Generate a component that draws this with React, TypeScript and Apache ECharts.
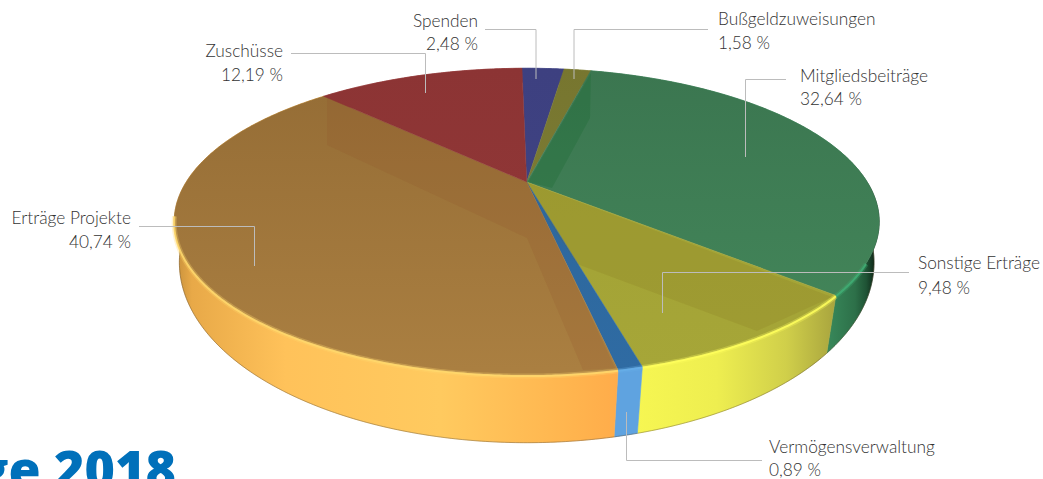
import React, { useEffect, useRef } from "react";
import * as echarts from "echarts";

const categories = ["Spenden", "Bußgeldzuweisungen", "Mitgliedsbeiträge", "Sonstige Erträge", "Vermögensverwaltung", "Erträge Projekte", "Zuschüsse"];
const shares = [2.48, 1.58, 32.64, 9.48, 0.89, 40.74, 12.19];
const titleFragment = "ge 2018";

const topColors = [
  ["#3d4080", "#404484"],
  ["#77762f", "#80803a"],
  ["#3b7650", "#44885b"],
  ["#a0a033", "#a6a638"],
  ["#2c6597", "#2f6ba3"],
  ["#946c35", "#aa7f41"],
  ["#8c3434", "#943939"],
];
const rimColors = ["#4a4d90", "#8a8a40", "#3fae74", "#ffff5c", "#66aee8", "#ffd86c", "#a04040"];
const rimMinY = [0, 0, 262, 0, 0, 215, 0];
const wallStops: [number, string][][] = [
  [[0, "#4a4d90"], [1, "#4a4d90"]],
  [[0, "#8a8a40"], [1, "#8a8a40"]],
  [[0, "#38885a"], [0.6, "#2d7049"], [0.85, "#1f5335"], [1, "#12301e"]],
  [[0, "#f6f652"], [0.4, "#eeee50"], [0.75, "#d0cf4a"], [1, "#a8a43e"]],
  [[0, "#5fa3e0"], [1, "#5fa3e0"]],
  [[0, "#c48e3a"], [0.04, "#e8a948"], [0.25, "#ffc25a"], [0.6, "#ffca5f"], [0.9, "#ffb44e"], [1, "#ffac4a"]],
  [[0, "#a04040"], [1, "#a04040"]],
];
const labelLayouts = [
  { x: 478, y1: 20, y2: 43, align: "right", line: [[485, 29.5], [536, 29.5], [536, 79]] },
  { x: 718, y1: 18, y2: 42, align: "left", line: [[708, 29.5], [574, 29.5], [574, 79]] },
  { x: 800, y1: 75, y2: 98, align: "left", line: [[786, 79.5], [745.5, 79.5], [745.5, 157]] },
  { x: 918, y1: 262, y2: 287, align: "left", line: [[909, 272.5], [662.5, 272.5], [662.5, 313]] },
  { x: 769, y1: 446, y2: 469, align: "left", line: [[762, 460.5], [626.5, 460.5], [626.5, 412]] },
  { x: 131, y1: 217, y2: 241, align: "right", line: [[139, 226.5], [254.5, 226.5], [254.5, 266]] },
  { x: 283, y1: 50, y2: 74, align: "right", line: [[291, 53.5], [425.5, 53.5], [425.5, 93]] },
];
const reflections = [
  { points: [[327, 97], [327, 145], [527, 238], [583, 370], [615, 368], [528, 183]], fill: "rgba(140,70,35,0.13)" },
  { points: [[591, 73], [590, 118], [552, 188], [528, 182]], fill: "rgba(25,105,50,0.3)" },
  { points: [[528, 183], [832, 297], [757, 331], [577, 264], [556, 232]], fill: "rgba(120,100,20,0.14)" },
];

const CX = 526.7;
const TOP = { cy: 182, A: 340.5, B: 143.2, k: 0.259 };
const BOTTOM = { cy: 221, A: 338, B: 170.7, k: 0.23 };
const ROTATION = -1;
const total = shares.reduce((a, b) => a + b, 0);

function project(disc: typeof TOP, deg: number, r = 1): [number, number] {
  const t = ((deg + ROTATION) * Math.PI) / 180;
  const u = r * Math.sin(t);
  const v = r * Math.cos(t);
  const w = 1 + disc.k * v;
  return [CX + (disc.A * u) / w, disc.cy - (disc.B * v) / w];
}
function span(index: number): [number, number] {
  let before = 0;
  for (let i = 0; i < index; i++) before += shares[i];
  return [(before / total) * 360, ((before + shares[index]) / total) * 360];
}
function arc(disc: typeof TOP, a0: number, a1: number): [number, number][] {
  const n = Math.max(2, Math.ceil((a1 - a0) * 2));
  const pts: [number, number][] = [];
  for (let i = 0; i <= n; i++) pts.push(project(disc, a0 + ((a1 - a0) * i) / n));
  return pts;
}

const renderWall = (params: any, api: any) => {
  const i = params.dataIndex;
  void api.value(0);
  const [a0, a1] = span(i);
  const top = arc(TOP, a0, a1);
  const bottom = arc(BOTTOM, a0, a1);
  const xs = top.concat(bottom).map((p) => p[0]);
  const x0 = Math.min(...xs);
  const x1 = i === 2 ? 873 : Math.max(...xs);
  const stops = wallStops[i].map(([offset, color]) => ({ offset, color }));
  const fill = new echarts.graphic.LinearGradient(i === 2 ? 828 : x0, 0, x1, 0, stops, true);
  return {
    type: "group",
    children: [
      { type: "polygon", shape: { points: top.concat(bottom.slice().reverse()) }, style: { fill, stroke: fill, lineWidth: 0.6 } },
      { type: "polyline", shape: { points: bottom.filter((p) => p[1] > 240) }, style: { fill: "none", stroke: "rgba(70,50,20,0.35)", lineWidth: 1 } },
    ],
  };
};

const renderTop = (params: any, api: any) => {
  const i = params.dataIndex;
  void api.value(0);
  const [a0, a1] = span(i);
  const rim = arc(TOP, a0, a1);
  const apex: [number, number] = [CX, TOP.cy];
  const fill = new echarts.graphic.LinearGradient(0, 68, 0, 370, [
    { offset: 0, color: topColors[i][0] },
    { offset: 1, color: topColors[i][1] },
  ], true);
  const children: any[] = [
    { type: "polygon", shape: { points: [apex, ...rim] }, style: { fill, stroke: fill, lineWidth: 0.5 } },
  ];
  return { type: "group", children };
};

const renderRim = (params: any, api: any) => {
  const i = params.dataIndex;
  void api.value(0);
  const [a0, a1] = span(i);
  const front = arc(TOP, a0, a1).filter((p) => rimMinY[i] > 0 ? p[1] > rimMinY[i] : p[1] > 215);
  const pts = front.map((p) => [p[0], p[1] + 0.8]);
  if (pts.length < 2) return { type: "group", children: [] };
  return {
    type: "group",
    children: [
      { type: "polyline", shape: { points: pts }, style: { fill: "none", stroke: rimColors[i], lineWidth: 5, opacity: 0.3 } },
      { type: "polyline", shape: { points: pts }, style: { fill: "none", stroke: rimColors[i], lineWidth: 2, opacity: 0.85 } },
    ],
  };
};

function labelGraphics() {
  const out: any[] = [];
  const font = '300 17.3px "Lato", sans-serif';
  reflections.forEach((r) => {
    out.push({ type: "polygon", z: 5, silent: true, shape: { points: r.points }, style: { fill: r.fill } });
  });
  categories.forEach((name, i) => {
    const l = labelLayouts[i];
    out.push({ type: "polyline", z: 10, shape: { points: l.line }, style: { fill: "none", stroke: "#bcbcbc", lineWidth: 1 } });
    out.push({ type: "text", z: 10, x: l.x, y: l.y1, style: { text: name, font, fill: "#333333", textAlign: l.align, textVerticalAlign: "middle" } });
    out.push({ type: "text", z: 10, x: l.x, y: l.y2, style: { text: `${shares[i].toFixed(2).replace(".", ",")} %`, font, fill: "#333333", textAlign: l.align, textVerticalAlign: "middle" } });
  });
  out.push({ type: "text", z: 10, x: 176, y: 493, style: { text: titleFragment, font: '800 52px "Open Sans", sans-serif', fill: "#0070ba", textAlign: "right", textVerticalAlign: "bottom" } });
  return out;
}

export default function App() {
  const ref = useRef<HTMLDivElement>(null);
  useEffect(() => {
    const chart = echarts.init(ref.current!, undefined, { renderer: "svg" });
    chart.setOption({
      animation: false,
      backgroundColor: "#ffffff",
      series: [
        { type: "custom", coordinateSystem: "none", z: 1, data: shares, renderItem: renderWall, silent: true },
        { type: "custom", coordinateSystem: "none", z: 2, data: shares, renderItem: renderTop, silent: true },
        { type: "custom", coordinateSystem: "none", z: 3, data: shares, renderItem: renderRim, silent: true },
      ],
      graphic: labelGraphics(),
    });
    return () => chart.dispose();
  }, []);
  return <div ref={ref} style={{ position: "absolute", left: 0, top: 0, width: 1043, height: 479, overflow: "hidden" }} />;
}
